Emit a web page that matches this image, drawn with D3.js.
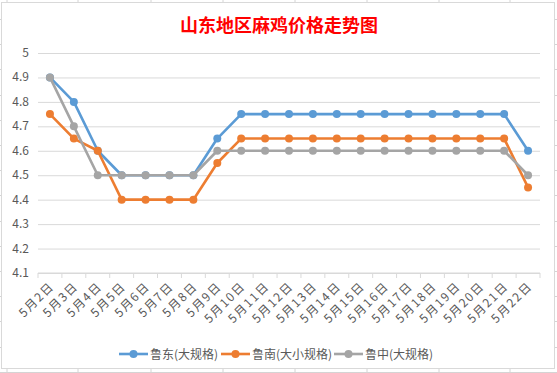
<!DOCTYPE html>
<html>
<head>
<meta charset="utf-8">
<script src="https://cdn.jsdelivr.net/npm/d3@7"></script>
<style>
  body { margin: 0; background: #fff; }
  svg { display: block; font-family: "Microsoft YaHei", "Noto Sans CJK SC", sans-serif; }
</style>
</head>
<body>
<svg id="chart" width="557" height="373"></svg>
<script>
var days = ["5月2日","5月3日","5月4日","5月5日","5月6日","5月7日","5月8日","5月9日","5月10日",
  "5月11日","5月12日","5月13日","5月14日","5月15日","5月16日","5月17日","5月18日","5月19日",
  "5月20日","5月21日","5月22日"];
var ludong = [4.9,4.8,4.6,4.5,4.5,4.5,4.5,4.65,4.75,4.75,4.75,4.75,4.75,4.75,4.75,4.75,4.75,4.75,4.75,4.75,4.6];
var lunan = [4.75,4.65,4.6,4.4,4.4,4.4,4.4,4.55,4.65,4.65,4.65,4.65,4.65,4.65,4.65,4.65,4.65,4.65,4.65,4.65,4.45];
var luzhong = [4.9,4.7,4.5,4.5,4.5,4.5,4.5,4.6,4.6,4.6,4.6,4.6,4.6,4.6,4.6,4.6,4.6,4.6,4.6,4.6,4.5];
var yTicks = [4.1,4.2,4.3,4.4,4.5,4.6,4.7,4.8,4.9,5];

var series = [
  {name: "鲁东(大规格)", values: ludong, color: "#5B9BD5"},
  {name: "鲁南(大小规格)", values: lunan, color: "#ED7D31"},
  {name: "鲁中(大规格)", values: luzhong, color: "#A5A5A5"}
];

var svg = d3.select("#chart");

// spreadsheet cell lines peeking out around the chart
var cols = [7, 78, 151, 223, 295, 367, 439, 510];
svg.selectAll(".col").data(cols).enter().append("line")
  .attr("x1", function (d) {return d;}).attr("x2", function (d) {return d;})
  .attr("y1", 0).attr("y2", 373)
  .attr("stroke", "#d4d4d4").attr("stroke-width", 1);
svg.selectAll(".row").data(d3.range(19, 373, 25.2)).enter().append("line")
  .attr("x1", 0).attr("x2", 557)
  .attr("y1", function (d) {return Math.round(d) + 0.5;}).attr("y2", function (d) {return Math.round(d) + 0.5;})
  .attr("stroke", "#d4d4d4").attr("stroke-width", 1);

// chart box
svg.append("rect")
  .attr("x", 1.5).attr("y", 2.5).attr("width", 553).attr("height", 366)
  .attr("fill", "#fff").attr("stroke", "#d9d9d9");

var x = d3.scaleBand().domain(days).range([38, 540]);
var y = d3.scaleLinear().domain([4.1, 5]).range([273, 53]);

svg.append("text")
  .attr("x", 279).attr("y", 32)
  .attr("text-anchor", "middle")
  .attr("font-size", 18).attr("font-weight", "bold")
  .attr("fill", "#FF0000")
  .text("山东地区麻鸡价格走势图");

// gridlines
svg.append("g")
  .attr("transform", "translate(38,0)")
  .call(d3.axisLeft(y).tickValues(yTicks).tickSize(-(540 - 38)).tickFormat(""))
  .call(function (g) {
    g.select(".domain").remove();
    g.selectAll("line").attr("stroke", "#d9d9d9");
  });

// y labels
svg.selectAll(".ylab").data(yTicks).enter().append("text")
  .attr("x", 29).attr("y", function (d) {return y(d) + 4;})
  .attr("text-anchor", "end").attr("font-size", 12).attr("fill", "#595959")
  .text(function (d) {return d;});

// x axis
var xa = svg.append("g").attr("transform", "translate(0," + y(4.1) + ")");
xa.append("line").attr("x1", 38).attr("x2", 540).attr("stroke", "#d9d9d9");
xa.selectAll(".tk").data(d3.range(days.length + 1)).enter().append("line")
  .attr("x1", function (i) {return 38 + i * x.step();})
  .attr("x2", function (i) {return 38 + i * x.step();})
  .attr("y1", 0).attr("y2", 5).attr("stroke", "#d9d9d9");
xa.selectAll(".xlab").data(days).enter().append("text")
  .attr("transform", function (d) {
    return "translate(" + (x(d) + x.bandwidth() / 2 + 5) + ",14) rotate(-45)";
  })
  .attr("text-anchor", "end").attr("font-size", 12).attr("letter-spacing", 1.6)
  .attr("fill", "#595959")
  .text(function (d) {return d;});

var line = d3.line()
  .x(function (d, i) {return x(days[i]) + x.bandwidth() / 2;})
  .y(function (d) {return y(d);});

series.forEach(function (s) {
  var g = svg.append("g");
  g.append("path").datum(s.values)
    .attr("d", line).attr("fill", "none")
    .attr("stroke", s.color).attr("stroke-width", 2.6).attr("stroke-linejoin", "round");
  g.selectAll("circle").data(s.values).enter().append("circle")
    .attr("cx", function (d, i) {return x(days[i]) + x.bandwidth() / 2;})
    .attr("cy", function (d) {return y(d);})
    .attr("r", 4).attr("fill", s.color);
});

// legend
var legX = [119, 221, 334];
var leg = svg.selectAll(".leg").data(series).enter().append("g")
  .attr("transform", function (d, i) {return "translate(" + legX[i] + ",354)";});
leg.append("line").attr("x1", 0).attr("x2", 29)
  .attr("stroke", function (d) {return d.color;}).attr("stroke-width", 2.6);
leg.append("circle").attr("cx", 14.5).attr("r", 4)
  .attr("fill", function (d) {return d.color;});
leg.append("text").attr("x", 31).attr("y", 4.5)
  .attr("font-size", 12).attr("fill", "#595959")
  .text(function (d) {return d.name;});
</script>
</body>
</html>
